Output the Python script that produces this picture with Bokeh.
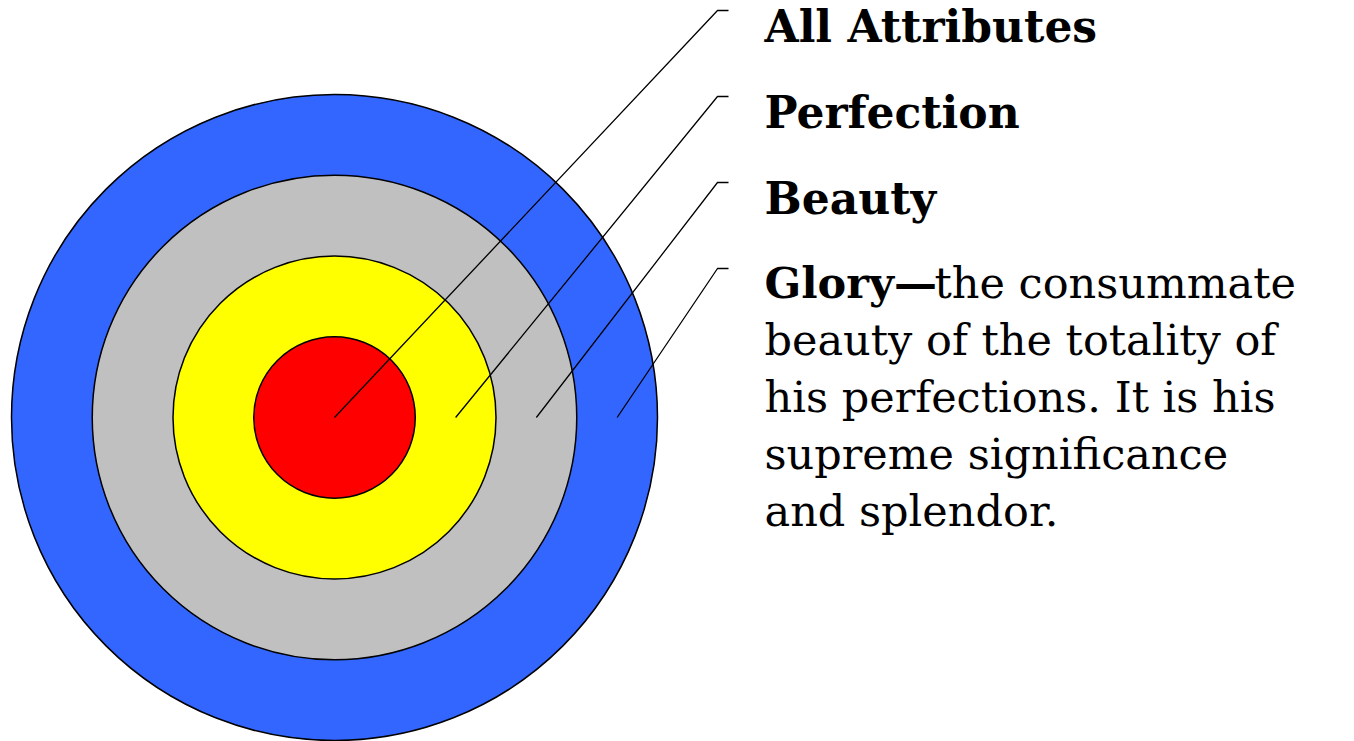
from bokeh.plotting import figure
from bokeh.models import Range1d, ColumnDataSource
from bokeh.core.properties import value
from bokeh.embed import file_html
from bokeh.resources import INLINE

# ---- data ----
labels = ["All Attributes", "Perfection", "Beauty", "Glory"]   # inner -> outer
ring_levels = [1, 2, 3, 4]
ring_colors = ["#FF0000", "#FFFF00", "#C0C0C0", "#3366FF"]
glory_head = "Glory\u2014"
glory_first = "the consummate"
glory_lines = ["beauty of the totality of",
               "his perfections. It is his",
               "supreme significance",
               "and splendor."]

# ---- layout (pixel-like data space) ----
W, H = 1354, 741
cx, cy = 334, 417
unit = 80.75
corner_x, tick_x = 717, 728
corner_y0, label_step = 10, 86
text_x = 764
text_drop = 16          # baseline offset from leader corner
head_size, body_size = "44px", "43px"
glory_head_w = 170
body_step = 57

p = figure(width=W, height=H, output_backend="svg", toolbar_location=None,
           x_range=Range1d(0, W), y_range=Range1d(H, 0),
           min_border=0, outline_line_color=None)
p.axis.visible = False
p.grid.visible = False
p.background_fill_color = "white"
p.border_fill_color = "white"

# rings drawn outer first
order = list(range(len(ring_levels)))[::-1]
src = ColumnDataSource(dict(
    x=[cx] * len(order), y=[cy] * len(order),
    r=[ring_levels[i] * unit for i in order],
    c=[ring_colors[i] for i in order]))
p.circle(x="x", y="y", radius="r", fill_color="c", line_color="black",
         line_width=1.5, source=src)

# leader lines from ring midpoints
xs, ys = [], []
for i, lv in enumerate(ring_levels):
    r_mid = 0 if i == 0 else (lv - 0.5) * unit
    yk = corner_y0 + i * label_step
    xs.append([cx + r_mid, corner_x, tick_x])
    ys.append([cy, yk, yk])
p.multi_line(xs=xs, ys=ys, line_color="black", line_width=1.3)

# headings
head_y = [corner_y0 + i * label_step + text_drop for i in range(3)]
p.text(x=[text_x] * 3, y=head_y, text=labels[:3], text_font=value("DejaVu Serif"),
       text_font_style="bold", text_font_size=head_size, text_baseline="alphabetic",
       text_color="black")

gy = corner_y0 + 3 * label_step + text_drop - 2
p.text(x=[text_x], y=[gy], text=[glory_head], text_font=value("DejaVu Serif"),
       text_font_style="bold", text_font_size=body_size, text_baseline="alphabetic",
       text_color="black")
p.text(x=[text_x + glory_head_w], y=[gy], text=[glory_first], text_font=value("DejaVu Serif"),
       text_font_size=body_size, text_baseline="alphabetic", text_color="black")
p.text(x=[text_x] * len(glory_lines),
       y=[gy + (k + 1) * body_step for k in range(len(glory_lines))],
       text=glory_lines, text_font=value("DejaVu Serif"),
       text_font_size=body_size, text_baseline="alphabetic", text_color="black")

open("out.html", "w").write(file_html(p, INLINE))
